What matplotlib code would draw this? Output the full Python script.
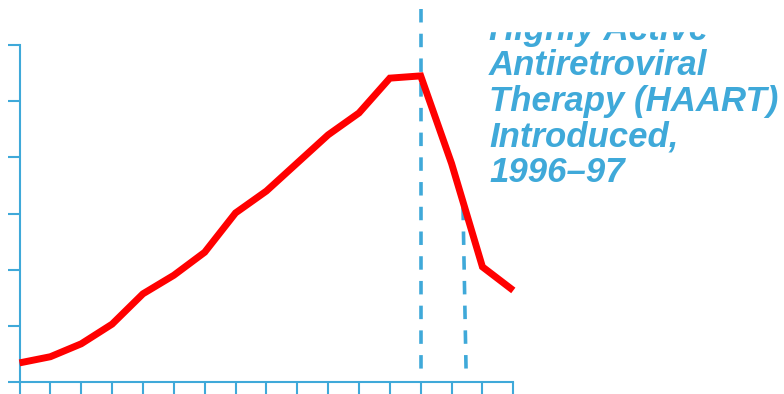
import matplotlib
matplotlib.use("Agg")
import matplotlib.pyplot as plt
from matplotlib.patches import Rectangle

# values (one tick on y = 10 units)
years = list(range(1982, 1999))
values = [3.4, 4.5, 6.8, 10.3, 15.7, 19.0, 23.1, 30.1, 34.0, 39.0, 44.0,
          47.9, 54.1, 54.5, 38.9, 20.5, 16.3]
yticks = [0, 10, 20, 30, 40, 50, 60]

# dashed marker lines (x in year index, y in data units)
haart_x1 = [13, 13]
haart_y1 = [66.4, 2.0]
haart_x2 = [14.37, 14.47]
haart_y2 = [31.2, 2.0]

haart_lines = ["Highly Active", "Antiretroviral", "Therapy (HAART)",
               "Introduced,", "1996\u201397"]
baselines_px = [40, 75, 110.5, 146, 181.5]

blue = "#3FA9D9"
red = "#FF0000"

W, H = 784, 394
fig = plt.figure(figsize=(W / 100, H / 100), dpi=100)
ax = fig.add_axes([19.5 / W, 12 / H, (513.3 - 19.5) / W, (382 - 45) / H])

xs = list(range(len(years)))

plt.rcParams["lines.scale_dashes"] = False
ax.plot(haart_x1, haart_y1, color=blue, lw=2.6, dashes=(9.7, 8.1),
        clip_on=False, zorder=2)
ax.plot(haart_x2, haart_y2, color=blue, lw=2.6, dashes=(9.7, 8.1),
        clip_on=False, zorder=2)
ax.plot(xs, values, color=red, lw=5.0, solid_joinstyle="miter",
        solid_capstyle="butt", clip_on=False, zorder=3)

ax.set_xlim(0, len(years) - 1)
ax.set_ylim(0, 60)
ax.set_xticks(xs)
ax.set_yticks(yticks)
ax.set_xticklabels([])
ax.set_yticklabels([])
for s in ["top", "right"]:
    ax.spines[s].set_visible(False)
for s in ["left", "bottom"]:
    ax.spines[s].set_color(blue)
    ax.spines[s].set_linewidth(1.5)
ax.tick_params(axis="both", direction="out", length=8.8, width=1.5,
               color=blue)

for line, b in zip(haart_lines, baselines_px):
    fig.text(489 / W, 1 - b / H, line, color=blue, fontsize=25,
             family="Liberation Sans", weight="bold", style="italic",
             ha="left", va="baseline")

# the top of the caption is cut off in the original slide
fig.add_artist(Rectangle((440 / W, 1 - 30.5 / H), 1, 30.5 / H,
                         transform=fig.transFigure, color="white",
                         zorder=10))

fig.savefig("out.png", dpi=100)
